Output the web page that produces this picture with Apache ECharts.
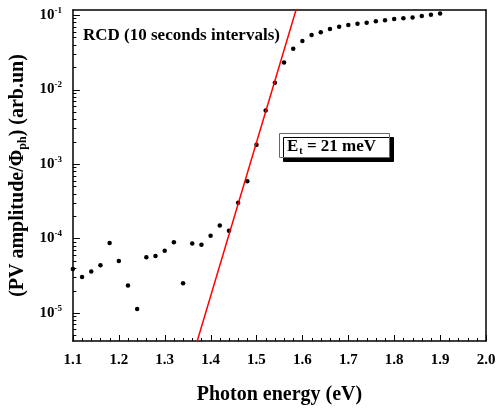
<!DOCTYPE html>
<html>
<head>
<meta charset="utf-8">
<script src="https://cdn.jsdelivr.net/npm/echarts@6.0.0/dist/echarts.min.js"></script>
<style>
  html, body { margin: 0; padding: 0; background: #fff; }
  #main { width: 500px; height: 410px; }
</style>
</head>
<body>
<div id="main"></div>
<script>
// photon energy (eV)
var energy = [1.10, 1.12, 1.14, 1.16, 1.18, 1.20, 1.22, 1.24, 1.26, 1.28, 1.30, 1.32, 1.34, 1.36, 1.38,
  1.40, 1.42, 1.44, 1.46, 1.48, 1.50, 1.52, 1.54, 1.56, 1.58, 1.60, 1.62, 1.64, 1.66, 1.68, 1.70,
  1.72, 1.74, 1.76, 1.78, 1.80, 1.82, 1.84, 1.86, 1.88, 1.90]
// PV amplitude / photon flux (arb.un)
var amplitude = [3.90e-5, 3.05e-5, 3.59e-5, 4.37e-5, 8.67e-5, 4.99e-5, 2.34e-5, 1.13e-5, 5.58e-5, 5.81e-5,
  6.86e-5, 8.93e-5, 2.51e-5, 8.57e-5, 8.24e-5, 1.09e-4, 1.49e-4, 1.27e-4, 3.02e-4, 5.87e-4,
  1.81e-3, 5.25e-3, 1.23e-2, 2.31e-2, 3.52e-2, 4.50e-2, 5.41e-2, 5.87e-2, 6.50e-2, 6.98e-2,
  7.36e-2, 7.66e-2, 7.91e-2, 8.24e-2, 8.49e-2, 8.85e-2, 9.04e-2, 9.31e-2, 9.70e-2, 0.101, 0.105]
// Urbach tail fit (Et = 21 meV), two end points
var fitEnergy = [1.36, 1.60]
var fitAmplitude = [2.5e-6, 0.227]
// tick labels
var xTicks = [1.1, 1.2, 1.3, 1.4, 1.5, 1.6, 1.7, 1.8, 1.9, 2.0]
var yDecades = [-5, -4, -3, -2, -1]

var serif = "'Liberation Serif', 'Times New Roman', serif"

function log10Pairs(xs, ys) {
  var out = []
  for (var i = 0; i < xs.length; i++) {
    out.push([xs[i], Math.log10(ys[i])])
  }
  return out
}

var yMin = Math.log10(4.2e-6)
var yMax = Math.log10(0.117)

// minor log ticks 2..9 in each decade
var yMinor = []
for (var d = -6; d <= -1; d++) {
  for (var m = 2; m <= 9; m++) {
    var t = d + Math.log10(m)
    if (t > yMin && t < yMax) yMinor.push(t)
  }
}
// x minor ticks every 0.02 eV
var xMinor = []
for (var k = 56; k < 100; k++) {
  if (k % 5 !== 0) xMinor.push(k / 50)
}

// frame line only (top / right)
function frameAxis(pos, min, max) {
  return {
    type: 'value',
    position: pos,
    min: min,
    max: max,
    axisLine: { show: true, onZero: false, lineStyle: { color: '#000', width: 1.5 } },
    axisTick: { show: false },
    axisLabel: { show: false },
    splitLine: { show: false }
  }
}

// inner ticks drawn as short lines from the axis, positions through the axis scale
function tickSeries(values, onX, len) {
  var data = values.map(function(v) {
    return onX ? [v, yMin] : [1.1, v]
  })
  return {
    type: 'custom',
    silent: true,
    z: 5,
    clip: false,
    data: data,
    renderItem: function(params, api) {
      var p = api.coord([api.value(0), api.value(1)])
      if (onX) {
        var x = Math.round(p[0]) + 0.5
        return {
          type: 'line',
          shape: { x1: x, y1: p[1], x2: x, y2: p[1] - len },
          style: { stroke: '#000', lineWidth: 1 }
        }
      }
      var y = Math.round(p[1]) + 0.5
      return {
        type: 'line',
        shape: { x1: p[0], y1: y, x2: p[0] + len, y2: y },
        style: { stroke: '#000', lineWidth: 1 }
      }
    }
  }
}

var chart = echarts.init(document.getElementById('main'))
var option = {
  animation: false,
  backgroundColor: '#fff',
  grid: {
    left: 71,
    right: 14,
    top: 10,
    bottom: 67
  },
  xAxis: [
    {
      type: 'value',
      min: 1.1,
      max: 2.0,
      interval: 0.1,
      name: 'Photon energy (eV)',
      nameLocation: 'middle',
      nameGap: 44,
      nameTextStyle: { fontFamily: serif, fontWeight: 'bold', fontSize: 20, color: '#000' },
      axisLine: { show: true, onZero: false, lineStyle: { color: '#000', width: 1.5 } },
      axisTick: { show: false },
      splitLine: { show: false },
      axisLabel: {
        margin: 12,
        color: '#000',
        fontFamily: serif,
        fontWeight: 'bold',
        fontSize: 15,
        customValues: xTicks,
        formatter: function(v) {
          return v.toFixed(1)
        }
      }
    },
    frameAxis('top', 1.1, 2.0)
  ],
  yAxis: [
    {
      type: 'value',
      min: yMin,
      max: yMax,
      position: 'left',
      name: '(PV amplitude/Φ{sub|ph}) (arb.un)',
      nameLocation: 'middle',
      nameRotate: 90,
      nameGap: 37,
      nameTextStyle: {
        fontFamily: serif,
        fontWeight: 'bold',
        fontSize: 20,
        color: '#000',
        rich: {
          sub: { fontFamily: serif, fontWeight: 'bold', fontSize: 12, color: '#000', padding: [9, 0, 0, 0] }
        }
      },
      axisLine: { show: true, onZero: false, lineStyle: { color: '#000', width: 1.5 } },
      axisTick: { show: false },
      splitLine: { show: false },
      axisLabel: {
        margin: 11,
        customValues: yDecades,
        formatter: function(v) {
          return '{b|10}{s|' + Math.round(v) + '}'
        },
        rich: {
          b: { fontFamily: serif, fontWeight: 'bold', fontSize: 15, color: '#000' },
          s: { fontFamily: serif, fontWeight: 'bold', fontSize: 9, color: '#000', padding: [0, 0, 9, 0] }
        }
      }
    },
    frameAxis('right', yMin, yMax)
  ],
  series: [
    {
      type: 'scatter',
      data: log10Pairs(energy, amplitude),
      symbolSize: 4.5,
      itemStyle: { color: '#000', opacity: 1 }
    },
    {
      type: 'line',
      data: log10Pairs(fitEnergy, fitAmplitude),
      showSymbol: false,
      clip: true,
      lineStyle: { color: '#ff0000', width: 1.5 }
    },
    tickSeries(xTicks, true, 6),
    tickSeries(xMinor, true, 3),
    tickSeries(yDecades, false, 7),
    tickSeries(yMinor, false, 3.5)
  ],
  graphic: [
    {
      type: 'text',
      left: 83,
      top: 27,
      style: {
        text: 'RCD (10 seconds intervals)',
        font: 'bold 17px ' + serif,
        fill: '#000'
      }
    },
    {
      type: 'rect',
      left: 279,
      top: 133,
      shape: { width: 110, height: 24 },
      style: {
        fill: '#fff',
        stroke: '#666',
        lineWidth: 1,
        shadowColor: '#000',
        shadowBlur: 0,
        shadowOffsetX: 4,
        shadowOffsetY: 4
      }
    },
    {
      type: 'text',
      left: 287,
      top: 138,
      style: {
        text: '{e|E}{t|t}{e| = 21 meV}',
        fill: '#000',
        rich: {
          e: { fontFamily: serif, fontWeight: 'bold', fontSize: 17, color: '#000' },
          t: { fontFamily: serif, fontWeight: 'bold', fontSize: 10, color: '#000', padding: [9, 0, 0, 1] }
        }
      }
    }
  ]
}
chart.setOption(option)
</script>
</body>
</html>
